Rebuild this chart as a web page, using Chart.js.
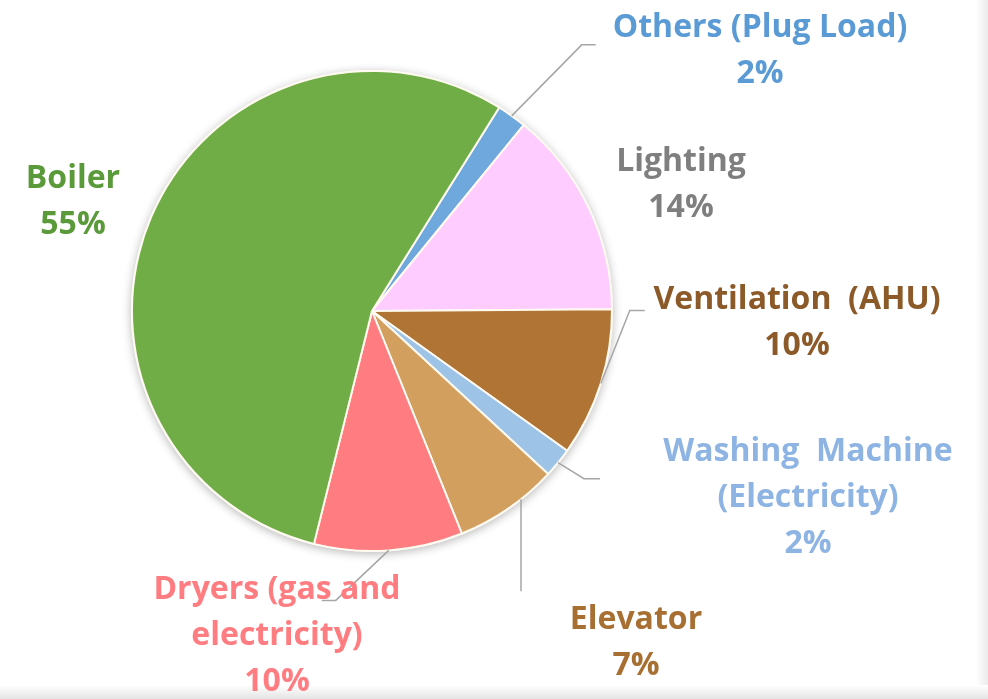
<!DOCTYPE html>
<html>
<head>
  <title>Energy Use Breakdown</title>
  <style>
      body {
          margin: 0;
          background-color: #ffffff;
      }
      .wrap {
          position: relative;
          width: 988px;
          height: 699px;
          overflow: hidden;
      }
      .edge-bottom {
          position: absolute;
          left: 0;
          right: 0;
          bottom: 0;
          height: 14px;
          background: linear-gradient(#ffffff, #e4e4e4);
      }
      .edge-right {
          position: absolute;
          top: 0;
          bottom: 0;
          right: 0;
          width: 12px;
          background: linear-gradient(to right, #ffffff, #ebebeb);
      }
      canvas {
          position: absolute;
          left: 0;
          top: 0;
      }
  </style>
</head>
<body>
  <div class="wrap">
      <div class="edge-right"></div>
      <div class="edge-bottom"></div>
      <canvas id="energyChart" width="988" height="699"></canvas>
  </div>
  <script src="https://cdn.jsdelivr.net/npm/chart.js"></script>
  <script>
      // slices, clockwise from the Others slice
      const categories = ['Others (Plug Load)', 'Lighting', 'Ventilation (AHU)', 'Washing Machine (Electricity)', 'Elevator', 'Dryers (gas and electricity)', 'Boiler'];
      const shares = [2, 14, 10, 2, 7, 10, 55];
      const labelLines = [
          ['Others (Plug Load)'],
          ['Lighting'],
          ['Ventilation  (AHU)'],
          ['Washing  Machine', '(Electricity)'],
          ['Elevator'],
          ['Dryers (gas and', 'electricity)'],
          ['Boiler']
      ];

      const sliceColors = ['#6fa8dc', '#ffccff', '#b07434', '#9dc3e6', '#d29f5f', '#ff7c80', '#70ad47'];
      const textColors = ['#5b9bd5', '#7f7f7f', '#8c5a28', '#8eb4e3', '#a86f32', '#ff7c80', '#5a9a3a'];

      // label placement: x centre, first line y, where on the slice the leader starts, leader offsets
      const labelPlace = [
          { x: 760, y: 28, at: 0.5, leader: [[70, -71], [84, -71]] },
          { x: 681, y: 162, at: 0.5, leader: null },
          { x: 797, y: 300, at: 0.5, leader: [[29, -73], [44, -73]] },
          { x: 808, y: 452, at: 0.5, leader: [[26, 16], [42, 16]] },
          { x: 636, y: 620, at: 0.35, leader: [[0, 92]] },
          { x: 277, y: 590, at: 0.5, leader: [[-53, 50], [-67, 50]] },
          { x: 73, y: 179, at: 0.5, leader: null }
      ];
      const lineGap = 46;

      const calloutPlugin = {
          id: 'callouts',
          beforeDatasetsDraw(chart) {
              const arc = chart.getDatasetMeta(0).data[0];
              const { x, y, outerRadius } = arc.getProps(['x', 'y', 'outerRadius'], true);
              const ctx = chart.ctx;
              ctx.save();
              ctx.shadowColor = 'rgba(0, 0, 0, 0.28)';
              ctx.shadowBlur = 10;
              ctx.shadowOffsetY = 2;
              ctx.fillStyle = '#ffffff';
              ctx.beginPath();
              ctx.arc(x, y, outerRadius + 1, 0, Math.PI * 2);
              ctx.fill();
              ctx.restore();
          },
          afterDraw(chart) {
              const ctx = chart.ctx;
              const arcs = chart.getDatasetMeta(0).data;
              ctx.save();
              arcs.forEach((arc, i) => {
                  const p = arc.getProps(['x', 'y', 'startAngle', 'endAngle', 'outerRadius'], true);
                  const place = labelPlace[i];
                  const a = p.startAngle + (p.endAngle - p.startAngle) * place.at;
                  const ax = p.x + Math.cos(a) * p.outerRadius;
                  const ay = p.y + Math.sin(a) * p.outerRadius;

                  if (place.leader) {
                      ctx.strokeStyle = '#a6a6a6';
                      ctx.lineWidth = 1.5;
                      ctx.beginPath();
                      ctx.moveTo(ax, ay);
                      place.leader.forEach(pt => ctx.lineTo(ax + pt[0], ay + pt[1]));
                      ctx.stroke();
                  }

                  const lines = labelLines[i].concat([shares[i] + '%']);
                  ctx.fillStyle = textColors[i];
                  ctx.font = 'bold 32px "Open Sans"';
                  ctx.textAlign = 'center';
                  ctx.textBaseline = 'middle';
                  lines.forEach((t, k) => ctx.fillText(t, place.x, place.y + k * lineGap));
              });
              ctx.restore();
          }
      };

      const ctx = document.getElementById('energyChart').getContext('2d');
      const energyChart = new Chart(ctx, {
          type: 'pie',
          data: {
              labels: categories,
              datasets: [{
                  data: shares,
                  backgroundColor: sliceColors,
                  borderColor: '#fffaf0',
                  borderWidth: 2
              }]
          },
          options: {
              responsive: false,
              animation: false,
              events: [],
              rotation: 32,
              layout: {
                  padding: { left: 131, right: 375, top: 70, bottom: 147 }
              },
              plugins: {
                  legend: { display: false },
                  tooltip: { enabled: false }
              }
          },
          plugins: [calloutPlugin]
      });
  </script>
</body>
</html>
